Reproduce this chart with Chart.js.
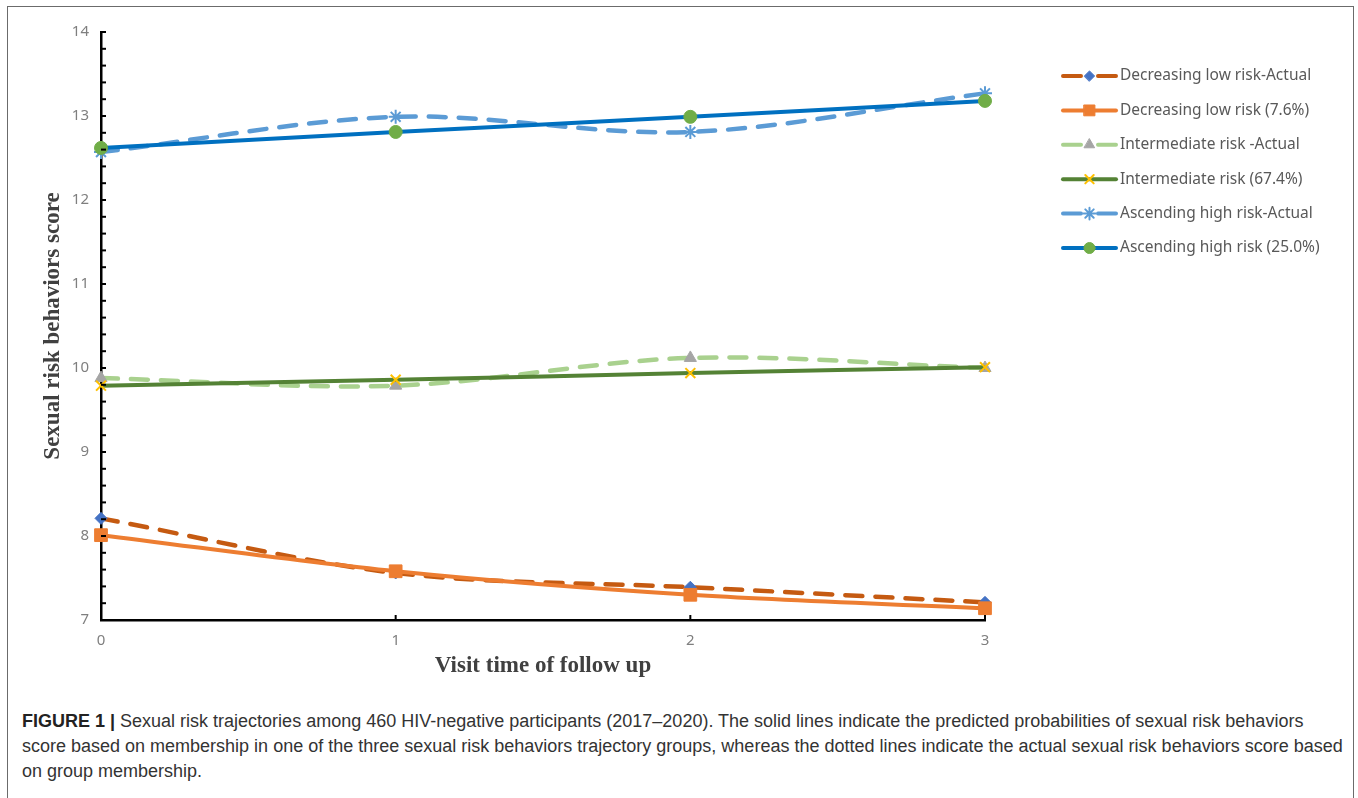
<!DOCTYPE html>
<html>
<head>
<meta charset="utf-8">
<script src="https://cdn.jsdelivr.net/npm/chart.js@4"></script>
<style>
  html, body { margin: 0; padding: 0; background: #fff; }
  body { width: 1358px; height: 798px; position: relative; overflow: hidden; }
  #frame { position: absolute; left: 7px; top: 6px; width: 1345px; height: 820px; border: 1.5px solid #6b6b6b; }
  #wrap { position: absolute; left: 0; top: 0; width: 1358px; height: 690px; }
  #caption { position: absolute; left: 22px; top: 709px; white-space: nowrap; font-family: "Liberation Sans", Arial, sans-serif; font-size: 18px; line-height: 25px; color: #333; }
  #caption b { color: #222; }
</style>
</head>
<body>
<div id="frame"></div>
<div id="wrap"><canvas id="lineChart"></canvas></div>
<div id="caption"><b>FIGURE 1 |</b> Sexual risk trajectories among 460 HIV-negative participants (2017–2020). The solid lines indicate the predicted probabilities of sexual risk behaviors<br>score based on membership in one of the three sexual risk behaviors trajectory groups, whereas the dotted lines indicate the actual sexual risk behaviors score based<br>on group membership.</div>
<script>
const visits = ['0', '1', '2', '3'];

const lowActual = [8.21, 7.56, 7.39, 7.21];
const lowPredicted = [8.01, 7.58, 7.30, 7.14];
const midActual = [9.88, 9.79, 10.12, 10.00];
const midPredicted = [9.79, 9.86, 9.94, 10.01];
const highActual = [12.57, 12.99, 12.81, 13.27];
const highPredicted = [12.62, 12.81, 12.99, 13.18];

const seriesNames = [
  'Decreasing low risk-Actual',
  'Decreasing low risk (7.6%)',
  'Intermediate risk -Actual',
  'Intermediate risk (67.4%)',
  'Ascending high risk-Actual',
  'Ascending high risk (25.0%)'
];

const yTicks = [7, 8, 9, 10, 11, 12, 13, 14];

function makeSet(i, values, lineColor, dashed, shape, markerColor, radius, markerBorder) {
  return {
    label: seriesNames[i],
    data: values,
    borderColor: lineColor,
    borderWidth: dashed ? 4.5 : 4,
    borderDash: dashed ? [17, 13] : [],
    borderCapStyle: dashed ? 'round' : 'butt',
    pointStyle: shape,
    pointRadius: radius,
    pointBackgroundColor: markerColor,
    pointBorderColor: markerColor,
    pointBorderWidth: markerBorder,
    tension: 0.33,
    fill: false,
    clip: false,
    order: 6 - i
  };
}

const datasets = [
  makeSet(0, lowActual, '#c55a11', true, 'rectRot', '#4472c4', 6, 1),
  makeSet(1, lowPredicted, '#ed7d31', false, 'rect', '#ed7d31', 9, 1),
  makeSet(2, midActual, '#a9d18e', true, 'triangle', '#a5a5a5', 7, 1),
  makeSet(3, midPredicted, '#548235', false, 'crossRot', '#ffc000', 7, 2),
  makeSet(4, highActual, '#5b9bd5', true, 'star', '#5b9bd5', 7, 2),
  makeSet(5, highPredicted, '#0070c0', false, 'circle', '#70ad47', 6.5, 1)
];

// small inside tick marks like the original axes
const tickMarks = {
  id: 'tickMarks',
  afterDatasetsDraw(chart) {
    const ctx = chart.ctx;
    const y = chart.scales.y;
    const x = chart.scales.x;
    ctx.save();
    ctx.strokeStyle = '#000';
    ctx.lineWidth = 2;
    for (let v = 7; v <= 14.001; v += 0.2) {
      const py = y.getPixelForValue(v);
      ctx.beginPath();
      ctx.moveTo(x.left, py);
      ctx.lineTo(x.left + 5, py);
      ctx.stroke();
    }
    for (let i = 1; i < visits.length; i++) {
      const px = x.getPixelForValue(i);
      ctx.beginPath();
      ctx.moveTo(px, y.bottom);
      ctx.lineTo(px, y.bottom - 5);
      ctx.stroke();
    }
    ctx.restore();
  }
};

// Excel-style legend: line sample with the marker in the middle
const sideLegend = {
  id: 'sideLegend',
  afterDraw(chart) {
    const ctx = chart.ctx;
    const x0 = 1063, x1 = 1116, rowY = 76, rowH = 34.4;
    ctx.save();
    datasets.forEach((ds, i) => {
      const yy = rowY + i * rowH;
      ctx.strokeStyle = ds.borderColor;
      ctx.lineWidth = 4;
      ctx.lineCap = 'round';
      ctx.beginPath();
      if (ds.borderDash.length) {
        ctx.moveTo(x0, yy); ctx.lineTo(x0 + 18, yy);
        ctx.moveTo(x1 - 18, yy); ctx.lineTo(x1, yy);
      } else {
        ctx.moveTo(x0, yy); ctx.lineTo(x1, yy);
      }
      ctx.stroke();
      ctx.fillStyle = ds.pointBackgroundColor;
      ctx.strokeStyle = ds.pointBorderColor;
      ctx.lineWidth = ds.pointBorderWidth;
      Chart.helpers.drawPoint(ctx, {pointStyle: ds.pointStyle, radius: ds.pointRadius * 0.85, borderWidth: ds.pointBorderWidth}, (x0 + x1) / 2, yy);
      ctx.fillStyle = '#595959';
      ctx.font = '15.5px "Noto Sans", sans-serif';
      ctx.textBaseline = 'middle';
      ctx.textAlign = 'left';
      ctx.fillText(ds.label, x1 + 4, yy);
    });
    ctx.restore();
  }
};

const config = {
  type: 'line',
  data: { labels: visits, datasets: datasets },
  options: {
    responsive: true,
    maintainAspectRatio: false,
    animation: false,
    layout: { padding: { left: 39, right: 373, top: 32, bottom: 6 } },
    plugins: { legend: { display: false }, tooltip: { enabled: false } },
    scales: {
      x: {
        type: 'category',
        offset: false,
        grid: { display: false, drawTicks: false },
        border: { display: true, color: '#000', width: 2.5 },
        ticks: { color: '#7f7f7f', font: { size: 15, family: '"Noto Sans", sans-serif' }, padding: 12 },
        title: { display: true, text: 'Visit time of follow up', color: '#404040', font: { size: 23, weight: 'bold', family: '"Liberation Serif", serif' }, padding: { top: 2 } },
        afterFit(s) { s.height = 64; }
      },
      y: {
        min: 7,
        max: 14,
        grid: { display: false, drawTicks: false },
        border: { display: true, color: '#000', width: 2.5 },
        afterBuildTicks(s) { s.ticks = yTicks.map(v => ({ value: v })); },
        ticks: { color: '#7f7f7f', font: { size: 15, family: '"Noto Sans", sans-serif' }, padding: 12 },
        title: { display: true, text: 'Sexual risk behaviors score', color: '#404040', font: { size: 23, weight: 'bold', family: '"Liberation Serif", serif' }, padding: 0 },
        afterFit(s) { s.width = 62; }
      }
    }
  },
  plugins: [tickMarks, sideLegend]
};

//eslint-disable-next-line
const lineChart = new Chart(document.getElementById('lineChart'), config);
</script>
</body>
</html>
